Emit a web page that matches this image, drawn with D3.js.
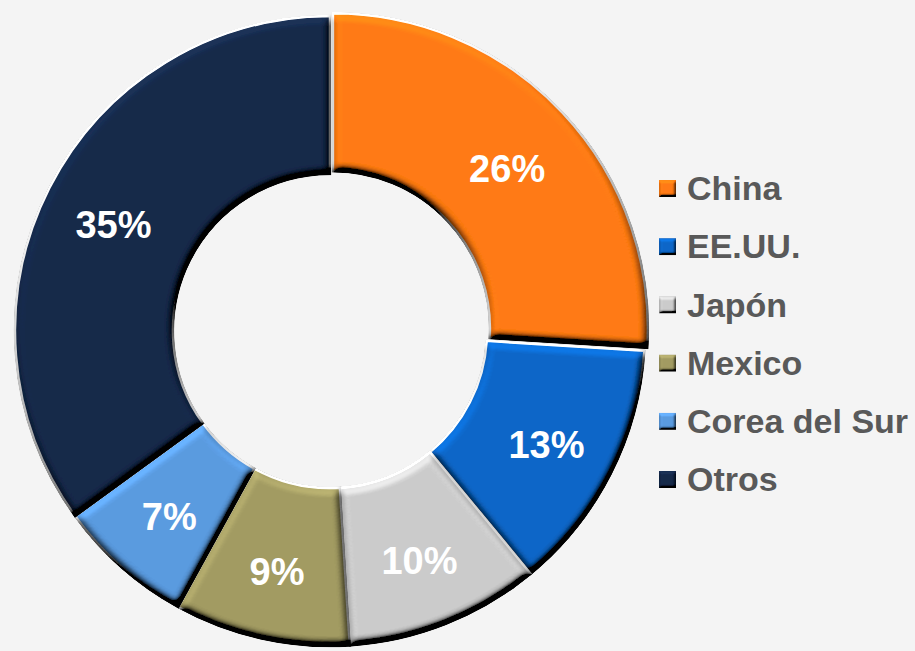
<!DOCTYPE html>
<html>
<head>
<meta charset="utf-8">
<script src="https://cdn.jsdelivr.net/npm/d3@7"></script>
<style>
  html, body { margin: 0; padding: 0; background: #f4f4f4; }
  #chart { width: 915px; height: 651px; }
</style>
</head>
<body>
<div id="chart"></div>
<script>
// Data
const countries = ["China", "EE.UU.", "Japón", "Mexico", "Corea del Sur", "Otros"];
const shares = [26, 13, 10, 9, 7, 35];
const colors = ["#ff7b12", "#0a67c9", "#cbcbcb", "#a29b62", "#5a9be0", "#15294a"];

function donutChart(location) {
    const container = d3.select(location);
    const width = container.node().clientWidth;
    const height = container.node().clientHeight;

    const cx = 330, cy = 331;
    const outerR = 315, innerR = 157;

    const svg = container.append("svg")
        .attr("width", width)
        .attr("height", height);

    svg.append("rect")
        .attr("width", width)
        .attr("height", height)
        .attr("fill", "#f4f4f4");

    const defs = svg.append("defs");

    // Soft bevel, roughly like the office "soft round" effect
    function bevel(id, blur, scale, gain) {
        const f = defs.append("filter")
            .attr("id", id)
            .attr("x", "-10%").attr("y", "-10%")
            .attr("width", "120%").attr("height", "120%");
        f.append("feGaussianBlur")
            .attr("in", "SourceAlpha")
            .attr("stdDeviation", blur)
            .attr("result", "blur");
        f.append("feDiffuseLighting")
            .attr("in", "blur")
            .attr("surfaceScale", scale)
            .attr("diffuseConstant", 1)
            .attr("lighting-color", "#fff")
            .attr("result", "diff")
            .append("feDistantLight")
            .attr("azimuth", 250)
            .attr("elevation", 45);
        f.append("feComposite")
            .attr("in", "SourceGraphic")
            .attr("in2", "diff")
            .attr("operator", "arithmetic")
            .attr("k1", gain).attr("k2", 0).attr("k3", 0).attr("k4", 0)
            .attr("result", "lit");
        f.append("feComposite")
            .attr("in", "lit")
            .attr("in2", "SourceAlpha")
            .attr("operator", "in");
    }
    bevel("bevel", 4, 12, 1.41);
    bevel("bevelSmall", 1.5, 4, 1.41);

    const pie = d3.pie().sort(null).value(d => d);
    const arcs = pie(shares);

    const arc = d3.arc().innerRadius(innerR).outerRadius(outerR);
    const labelArc = d3.arc().innerRadius(243).outerRadius(243);

    const g = svg.append("g")
        .attr("transform", `translate(${cx},${cy})`);

    // Slices (China pulled out a little)
    g.selectAll("path.slice")
        .data(arcs)
        .join("path")
        .attr("class", "slice")
        .attr("d", arc)
        .attr("transform", (d, i) => {
            if (i !== 0) return null;
            const a = (d.startAngle + d.endAngle) / 2;
            return `translate(${4 * Math.sin(a)},${-4 * Math.cos(a)})`;
        })
        .attr("fill", (d, i) => colors[i])
        .attr("stroke", "#f4f4f4")
        .attr("stroke-width", 2.5)
        .attr("filter", "url(#bevel)");

    // Percent labels
    g.selectAll("text.pct")
        .data(arcs)
        .join("text")
        .attr("class", "pct")
        .attr("transform", d => `translate(${labelArc.centroid(d)})`)
        .attr("text-anchor", "middle")
        .attr("dy", "0.45em")
        .style("font-family", "'Liberation Sans', Arial, sans-serif")
        .style("font-weight", "bold")
        .style("font-size", "38px")
        .style("fill", "white")
        .text(d => `${d.data}%`);

    // Legend
    const y = d3.scalePoint()
        .domain(countries)
        .range([188, 479]);

    const legend = svg.append("g")
        .selectAll("g")
        .data(countries)
        .join("g")
        .attr("transform", d => `translate(659,${y(d)})`);

    legend.append("rect")
        .attr("x", 0)
        .attr("y", -8)
        .attr("width", 17)
        .attr("height", 17)
        .attr("fill", (d, i) => colors[i])
        .attr("filter", "url(#bevelSmall)");

    legend.append("text")
        .attr("x", 28)
        .attr("dy", "0.36em")
        .style("font-family", "'Liberation Sans', Arial, sans-serif")
        .style("font-weight", "bold")
        .style("font-size", "34px")
        .style("fill", "#595959")
        .text(d => d);
}

donutChart("#chart");
</script>
</body>
</html>
